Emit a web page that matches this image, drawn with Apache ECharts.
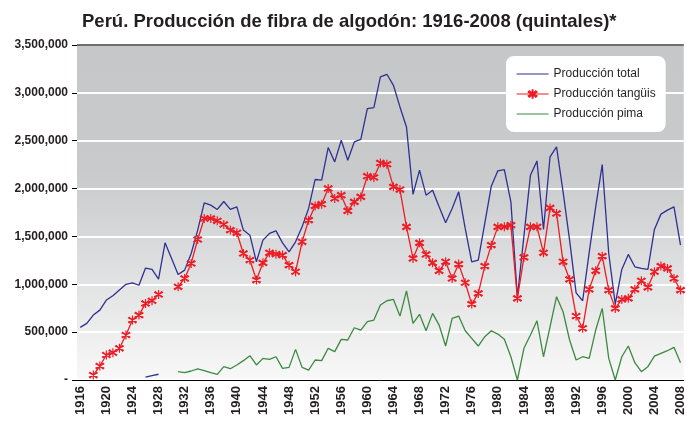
<!DOCTYPE html>
<html>
<head>
<meta charset="utf-8">
<script src="https://cdn.jsdelivr.net/npm/echarts@6/dist/echarts.min.js"></script>
<style>
  html, body { margin: 0; padding: 0; background: #fff; }
  #chart { width: 687px; height: 423px; }
</style>
</head>
<body>
<div id="chart"></div>
<script>
// años 1916-2008
const years = [];
for (let y = 1916; y <= 2008; y++) years.push(String(y));

// miles de quintales
const totalK = [
  550, 592, 678, 730, 835, 880, 940, 1000, 1015, 990,          // 1916-1925
  1170, 1155, 1055, 1433, 1270, 1103, 1148, 1322, 1566, 1851,  // 1926-1935
  1827, 1782, 1865, 1782, 1809, 1566, 1513, 1235, 1461, 1531,  // 1936-1945
  1558, 1433, 1339, 1444, 1600, 1792, 2095, 2088, 2429, 2279,  // 1946-1955
  2505, 2296, 2487, 2515, 2836, 2846, 3166, 3194, 3079, 2853,  // 1956-1965
  2644, 1941, 2192, 1931, 1983, 1809, 1642, 1792, 1966, 1583,  // 1966-1975
  1235, 1253, 1636, 2025, 2185, 2199, 1861, 870, 1503, 2140,   // 1976-1985
  2289, 1573, 2331, 2435, 1966, 1461, 911, 828, 1330, 1809,    // 1986-1995
  2251, 1322, 793, 1155, 1312, 1183, 1166, 1155, 1573, 1733,   // 1996-2005
  1775, 1809, 1409                                             // 2006-2008
];
const tanguisK = [
  null, null, 52, 146, 261, 285, 331, 470, 626, 678,
  800, 828, 894, null, null, 974, 1061, 1218, 1468, 1688,
  1688, 1663, 1625, 1566, 1538, 1322, 1253, 1044, 1224, 1329,
  1315, 1305, 1200, 1131, 1444, 1670, 1819, 1837, 2001, 1897,
  1931, 1767, 1861, 1913, 2129, 2116, 2268, 2255, 2018, 1990,
  1600, 1270, 1433, 1312, 1224, 1141, 1235, 1061, 1211, 1016,
  793, 905, 1190, 1409, 1600, 1600, 1618, 853, 1281, 1600,
  1600, 1329, 1798, 1740, 1235, 1051, 668, 540, 947, 1141,
  1294, 939, 748, 842, 853, 947, 1037, 968, 1131, 1190,
  1166, 1061, 939
];
const pimaK = [
  null, null, null, null, null, null, null, null, null, null,
  null, null, null, null, null, 87, 77, 94, 115, 97,
  77, 59, 139, 118, 157, 202, 254, 157, 226, 216,
  243, 122, 132, 320, 132, 104, 209, 202, 331, 296,
  425, 418, 546, 522, 609, 626, 783, 828, 842, 668,
  932, 592, 686, 515, 696, 574, 355, 644, 668, 515,
  435, 355, 452, 515, 480, 425, 243, 0, 331, 470,
  619, 243, 556, 870, 713, 418, 209, 243, 226, 522,
  748, 226, 0, 243, 355, 181, 87, 139, 250, 279,
  306, 341, 181
];
// tramo corto en azul (1926-1928) cerca del eje
const earlyK = [
  null, null, null, null, null, null, null, null, null, null,
  30, 45, 60
];

const toQ = arr => arr.map(v => (v == null ? null : v * 1000));

const blue = '#2e3192';
const red = '#ed1c24';
const green = '#3b8a3f';
const font = 'Liberation Sans, Arial, sans-serif';

// asterisco (marcador de Excel)
const star = 'path://M5,0 L5,10 M0.7,2.5 L9.3,7.5 M0.7,7.5 L9.3,2.5 M1.5,1.5 L8.5,8.5 M1.5,8.5 L8.5,1.5';
const lineIcon = 'path://M0,0 L32,0 L32,1.2 L0,1.2 Z';

const chart = echarts.init(document.getElementById('chart'));
chart.setOption({
  animation: false,
  title: {
    text: 'Perú. Producción de fibra de algodón: 1916-2008 (quintales)*',
    left: 77,
    top: 7,
    textStyle: { fontFamily: font, fontSize: 18.5, fontWeight: 'bold', color: '#231f20' }
  },
  legend: {
    data: [
      { name: 'Producción total', icon: lineIcon },
      { name: 'Producción tangüis' },
      { name: 'Producción pima', icon: lineIcon }
    ],
    orient: 'vertical',
    left: 506,
    top: 56,
    backgroundColor: '#ffffff',
    borderRadius: 8,
    padding: [12, 10, 12, 10],
    itemWidth: 32,
    itemHeight: 12,
    itemGap: 8,
    lineStyle: { width: 1.2 },
    textStyle: { fontFamily: font, fontSize: 12, color: '#231f20' }
  },
  grid: {
    left: 77,
    right: 1,
    top: 45,
    bottom: 43,
    show: true,
    borderWidth: 0,
    backgroundColor: new echarts.graphic.LinearGradient(0, 0, 0, 1, [
      { offset: 0, color: '#c6c7c9' },
      { offset: 0.38, color: '#c9cacc' },
      { offset: 1, color: '#f8f8f8' }
    ])
  },
  xAxis: {
    type: 'category',
    data: years,
    boundaryGap: true,
    axisLine: { lineStyle: { color: '#000', width: 1 } },
    axisTick: { interval: 0, alignWithLabel: true, length: 4, lineStyle: { color: '#000' } },
    axisLabel: {
      interval: 3,
      rotate: 90,
      margin: 6,
      fontFamily: font,
      fontSize: 13,
      fontWeight: 'bold',
      color: '#231f20'
    }
  },
  yAxis: {
    type: 'value',
    min: 0,
    max: 3500000,
    interval: 500000,
    axisLine: { show: false },
    axisTick: { show: true, length: 5, lineStyle: { color: '#000' } },
    axisLabel: {
      margin: 9,
      fontFamily: font,
      fontSize: 12,
      fontWeight: 'bold',
      color: '#231f20',
      formatter: v => (v === 0 ? '-' : v.toLocaleString('en-US'))
    },
    splitLine: {
      show: true,
      lineStyle: {
        width: 2,
        color: ['#ffffff', '#ffffff', '#ffffff', '#ffffff', '#ffffff', '#ffffff', '#ffffff', '#6d6e70']
      }
    }
  },
  series: [
    {
      name: 'Producción total',
      type: 'line',
      data: toQ(totalK),
      showSymbol: false,
      symbol: 'none',
      lineStyle: { color: blue, width: 1.3 },
      itemStyle: { color: blue }
    },
    {
      name: 'Producción tangüis',
      type: 'line',
      data: toQ(tanguisK),
      symbol: star,
      symbolSize: 9,
      showAllSymbol: true,
      lineStyle: { color: red, width: 1.3 },
      itemStyle: { color: red, borderColor: red, borderWidth: 1.2 }
    },
    {
      name: 'Producción pima',
      type: 'line',
      data: toQ(pimaK),
      showSymbol: false,
      symbol: 'none',
      lineStyle: { color: green, width: 1.3 },
      itemStyle: { color: green }
    },
    {
      name: 'pima 1926-1928',
      type: 'line',
      data: toQ(earlyK),
      showSymbol: false,
      symbol: 'none',
      lineStyle: { color: blue, width: 1.3 },
      itemStyle: { color: blue }
    }
  ]
});
</script>
</body>
</html>
